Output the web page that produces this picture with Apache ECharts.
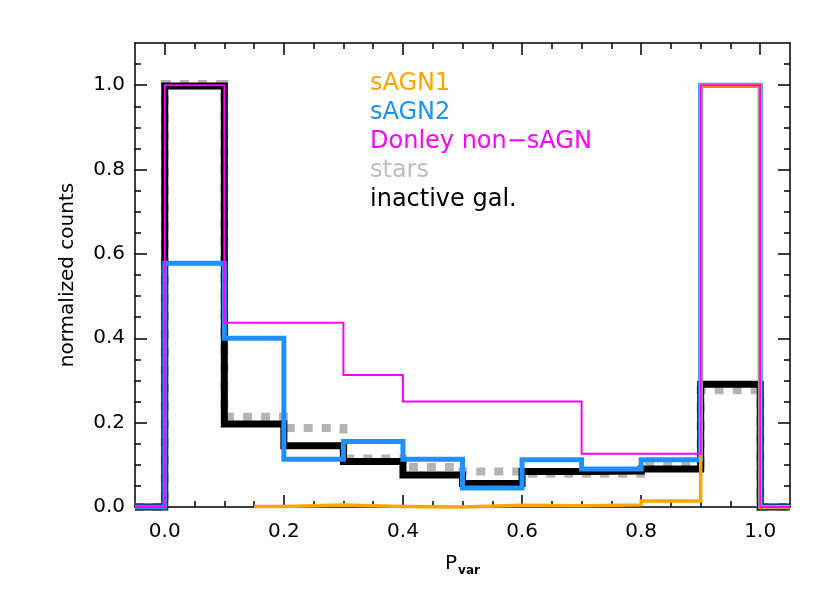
<!DOCTYPE html>
<html>
<head>
<meta charset="utf-8">
<script src="https://cdn.jsdelivr.net/npm/echarts@6/dist/echarts.min.js"></script>
<style>
  html, body { margin: 0; background: #fff; }
  #main { width: 830px; height: 593px; }
</style>
</head>
<body>
<div id="main"></div>
<script>
// histogram bins (P_var), 0.1 wide
var binEdges = [0, 0.1, 0.2, 0.3, 0.4, 0.5, 0.6, 0.7, 0.8, 0.9, 1.0];
// sAGN1 curve only starts at 0.15 in the original
var sagn1Edges = [0.15, 0.2, 0.3, 0.4, 0.5, 0.6, 0.7, 0.8, 0.9, 1.0];

var sagn1    = [0.001, 0.005, 0.001, 0.0, 0.004, 0.003, 0.005, 0.014, 1.0];
var sagn2    = [0.578, 0.400, 0.113, 0.155, 0.113, 0.045, 0.112, 0.090, 0.112, 1.0];
var donley   = [1.0, 0.437, 0.437, 0.313, 0.250, 0.250, 0.250, 0.126, 0.126, 1.0];
var stars    = [1.003, 0.214, 0.187, 0.115, 0.095, 0.084, 0.079, 0.079, 0.100, 0.277];
var inactive = [0.998, 0.197, 0.145, 0.108, 0.076, 0.056, 0.084, 0.085, 0.090, 0.291];

var seriesNames = ['sAGN1', 'sAGN2', 'Donley non\u2212sAGN', 'stars', 'inactive gal.'];
var seriesColors = ['#FFA500', '#1E90FF', '#FF00FF', '#B4B4B4', '#000000'];

var xTicks = [0, 0.2, 0.4, 0.6, 0.8, 1.0];
var xMinor = [0.05, 0.1, 0.15, 0.25, 0.3, 0.35, 0.45, 0.5, 0.55, 0.65, 0.7, 0.75, 0.85, 0.9, 0.95];
var yTicks = [0, 0.2, 0.4, 0.6, 0.8, 1.0];
var yMinor = [0.05, 0.1, 0.15, 0.25, 0.3, 0.35, 0.45, 0.5, 0.55, 0.65, 0.7, 0.75, 0.85, 0.9, 0.95, 1.05];

// turn bin edges + values into a step outline
function steps(edges, vals, lo, hi) {
  var pts = [];
  if (lo != null) pts.push([lo, 0], [edges[0], 0]);
  for (var i = 0; i < vals.length; i++) {
    pts.push([edges[i], vals[i]], [edges[i + 1], vals[i]]);
  }
  pts.push([edges[edges.length - 1], 0]);
  if (hi != null) pts.push([hi, 0]);
  return pts;
}

var chartDom = document.getElementById('main');
var myChart = echarts.init(chartDom);
var option;

var font = 'DejaVu Sans';

function xAx(pos, ticks, len, labels) {
  return {
    type: 'value', position: pos, min: -0.05, max: 1.05,
    splitLine: { show: false },
    axisLine: { show: len > 8, onZero: false, lineStyle: { color: '#000', width: 1.5 } },
    axisTick: { show: true, inside: true, length: len, customValues: ticks, lineStyle: { color: '#000', width: 1.5 } },
    axisLabel: labels ? {
      show: true, customValues: xTicks, margin: 15, color: '#000', fontFamily: font, fontSize: 20,
      formatter: function (v) { return v.toFixed(1); }
    } : { show: false }
  };
}
function yAx(pos, ticks, len, labels) {
  return {
    type: 'value', position: pos, min: 0, max: 1.1,
    splitLine: { show: false },
    axisLine: { show: len > 8, onZero: false, lineStyle: { color: '#000', width: 1.5 } },
    axisTick: { show: true, inside: true, length: len, customValues: ticks, lineStyle: { color: '#000', width: 1.5 } },
    axisLabel: labels ? {
      show: true, customValues: yTicks, margin: 10, color: '#000', fontFamily: font, fontSize: 20,
      formatter: function (v) { return v.toFixed(1); }
    } : { show: false }
  };
}

var xMain = xAx('bottom', xTicks, 12, true);
xMain.name = 'P{s|var}';
xMain.nameLocation = 'middle';
xMain.nameGap = 44;
xMain.nameTextStyle = {
  color: '#000', fontFamily: font, fontSize: 20,
  rich: { s: { fontFamily: font, fontSize: 12, fontWeight: 'bold', padding: [14, 0, 0, 1] } }
};
var yMain = yAx('left', yTicks, 12, true);
yMain.name = 'normalized counts';
yMain.nameLocation = 'middle';
yMain.nameGap = 57;
yMain.nameTextStyle = { color: '#000', fontFamily: font, fontSize: 20 };

function line(name, data, color, width, z, dash) {
  return {
    name: name, type: 'line', data: data, symbol: 'none', clip: false,
    z: z, silent: true, animation: false,
    lineStyle: { color: color, width: width, type: dash || 'solid', cap: 'butt', join: 'miter' }
  };
}

option = {
  backgroundColor: '#fff',
  animation: false,
  grid: { left: 135, right: 40, top: 43, bottom: 86 },
  xAxis: [xMain, xAx('top', xTicks, 12, false), xAx('bottom', xMinor, 6, false), xAx('top', xMinor, 6, false)],
  yAxis: [yMain, yAx('right', yTicks, 12, false), yAx('left', yMinor, 6, false), yAx('right', yMinor, 6, false)],
  series: [
    line(seriesNames[3], steps(binEdges, stars, -0.05, 1.05), seriesColors[3], 8, 2, [9, 9]),
    line(seriesNames[4], steps(binEdges, inactive, -0.05, 1.05), seriesColors[4], 7, 3),
    line(seriesNames[1], steps(binEdges, sagn2, -0.05, 1.05), seriesColors[1], 5, 4),
    line(seriesNames[0], steps(sagn1Edges, sagn1, null, 1.05), seriesColors[0], 3.5, 5),
    line(seriesNames[2], steps(binEdges, donley, -0.05, 1.05), seriesColors[2], 2, 6)
  ],
  graphic: seriesNames.map(function (n, i) {
    return {
      type: 'text', left: 370, top: 72 + 29 * i, z: 10,
      style: { text: n, fill: i === 3 ? '#BEBEBE' : seriesColors[i], font: '24px "' + font + '"' }
    };
  })
};

option && myChart.setOption(option);
</script>
</body>
</html>
